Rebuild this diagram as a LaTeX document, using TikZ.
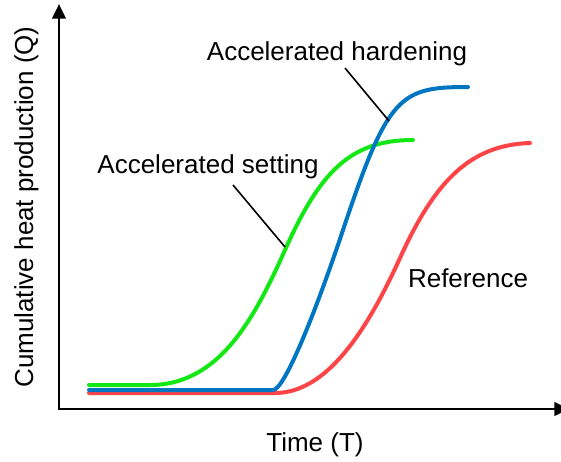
\documentclass[tikz,border=0pt]{standalone}
\usepackage{fontspec}
\setmainfont{Liberation Sans}
\usetikzlibrary{arrows.meta}
\definecolor{setGreen}{RGB}{20,232,20}
\definecolor{hardBlue}{RGB}{0,118,194}
\definecolor{refRed}{RGB}{255,68,72}
\begin{document}
\begin{tikzpicture}[x=0.75pt, y=-0.75pt,
    axisStyle/.style={line width=2.2pt, arrows={Triangle[length=11pt, width=10pt]-Triangle[length=11pt, width=10pt]}},
    curveStyle/.style={line width=3pt, line cap=round, line join=round},
    labelStyle/.style={font=\fontsize{19.5pt}{23pt}\selectfont, inner sep=0pt, anchor=base},
    leaderStyle/.style={line width=1.2pt}]
    \useasboundingbox (0,0) rectangle (561,461);

    % axes
    \coordinate (yTip) at (59,4);
    \coordinate (xTip) at (569,409);
    \draw[axisStyle] (yTip) |- (xTip);
    \node[labelStyle, rotate=90](qLabel) at (33,207) {Cumulative heat production (Q)};
    \node[labelStyle](tLabel) at (315,451) {Time (T)};

    % curves
    \draw[curveStyle, refRed] (89,393) -- (275,393)
        .. controls (325,393) and (365,335) .. (400,258)
        .. controls (435,181) and (470,145) .. (530,143);
    \draw[curveStyle, setGreen] (89,385) -- (150,385)
        .. controls (220,385) and (255,317) .. (285,250)
        .. controls (320,172) and (350,140) .. (413,140);
    \draw[curveStyle, hardBlue] (89,390) -- (273,390)
        .. controls (285,390) and (318,305) .. (343,230)
        .. controls (388,95) and (400,87) .. (468,87);

    % labels
    \node[labelStyle](hardLabel) at (337,60) {Accelerated hardening};
    \node[labelStyle](setLabel) at (208,173) {Accelerated setting};
    \node[labelStyle](refLabel) at (468,287) {Reference};
    \coordinate (hardFoot) at (345,68);
    \coordinate (hardTip) at (389,121);
    \coordinate (setFoot) at (233,185);
    \coordinate (setTip) at (285,247);
    \draw[leaderStyle] (hardFoot) -- (hardTip);
    \draw[leaderStyle] (setFoot) -- (setTip);
\end{tikzpicture}
\end{document}
